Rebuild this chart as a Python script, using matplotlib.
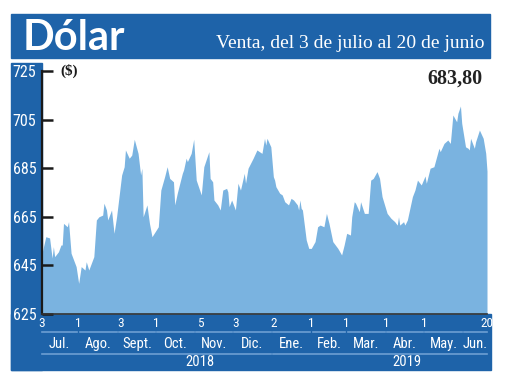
import matplotlib
matplotlib.use("Agg")
import matplotlib.pyplot as plt
import matplotlib.transforms as mtransforms
from matplotlib import font_manager
from matplotlib.patches import Rectangle
import pandas as pd

# Data
dates = [
    "2018-07-03", "2018-07-06", "2018-07-09", "2018-07-11", "2018-07-12", "2018-07-13",
    "2018-07-16", "2018-07-18", "2018-07-19", "2018-07-20", "2018-07-23", "2018-07-24",
    "2018-07-26", "2018-07-30", "2018-08-01", "2018-08-03", "2018-08-06", "2018-08-07",
    "2018-08-09", "2018-08-13", "2018-08-15", "2018-08-17", "2018-08-20", "2018-08-21",
    "2018-08-23", "2018-08-24", "2018-08-27", "2018-08-29", "2018-08-31", "2018-09-04",
    "2018-09-06", "2018-09-07", "2018-09-10", "2018-09-12", "2018-09-14", "2018-09-17",
    "2018-09-19", "2018-09-20", "2018-09-21", "2018-09-24", "2018-09-26", "2018-09-28",
    "2018-10-03", "2018-10-05", "2018-10-08", "2018-10-10", "2018-10-12", "2018-10-15",
    "2018-10-16", "2018-10-18", "2018-10-22", "2018-10-23", "2018-10-25", "2018-10-26",
    "2018-10-29", "2018-10-31", "2018-11-02", "2018-11-06", "2018-11-08", "2018-11-12",
    "2018-11-13", "2018-11-15", "2018-11-16", "2018-11-19", "2018-11-21", "2018-11-23",
    "2018-11-26", "2018-11-27", "2018-11-28", "2018-11-30", "2018-12-03", "2018-12-05",
    "2018-12-07", "2018-12-10", "2018-12-11", "2018-12-13", "2018-12-17", "2018-12-20",
    "2018-12-24", "2018-12-26", "2018-12-27", "2018-12-28", "2018-12-31", "2019-01-02",
    "2019-01-03", "2019-01-04", "2019-01-07", "2019-01-09", "2019-01-11", "2019-01-14",
    "2019-01-16", "2019-01-18", "2019-01-21", "2019-01-22", "2019-01-23", "2019-01-24",
    "2019-01-25", "2019-01-28", "2019-01-30", "2019-02-01", "2019-02-04", "2019-02-06",
    "2019-02-08", "2019-02-11", "2019-02-13", "2019-02-15", "2019-02-18", "2019-02-20",
    "2019-02-22", "2019-02-25", "2019-02-27", "2019-03-01", "2019-03-04", "2019-03-05",
    "2019-03-07", "2019-03-08", "2019-03-11", "2019-03-12", "2019-03-15", "2019-03-18",
    "2019-03-20", "2019-03-22", "2019-03-25", "2019-03-27", "2019-03-29", "2019-04-02",
    "2019-04-05", "2019-04-08", "2019-04-10", "2019-04-11", "2019-04-12", "2019-04-15",
    "2019-04-16", "2019-04-18", "2019-04-22", "2019-04-24", "2019-04-26", "2019-04-29",
    "2019-05-02", "2019-05-03", "2019-05-06", "2019-05-09", "2019-05-13", "2019-05-14",
    "2019-05-17", "2019-05-20", "2019-05-22", "2019-05-24", "2019-05-27", "2019-05-28",
    "2019-05-30", "2019-05-31", "2019-06-03", "2019-06-05", "2019-06-06", "2019-06-07",
    "2019-06-10", "2019-06-11", "2019-06-14", "2019-06-17", "2019-06-19", "2019-06-20",
]
values = [
    650.0, 656.8, 656.3, 648.0, 652.7, 648.6,
    650.6, 653.4, 653.4, 662.3, 660.9, 663.0,
    650.0, 644.5, 637.6, 644.5, 643.1, 646.5,
    643.1, 648.6, 663.7, 665.0, 665.7, 670.6,
    667.8, 663.7, 667.8, 658.2, 665.0, 682.2,
    685.6, 692.5, 689.1, 690.4, 696.9, 691.1,
    682.2, 685.0, 665.0, 669.9, 662.3, 656.8,
    660.9, 676.0, 681.5, 685.6, 680.8, 679.4,
    669.9, 674.7, 682.9, 684.3, 689.1, 687.7,
    691.1, 696.9, 680.1, 674.0, 685.6, 691.8,
    680.8, 679.4, 671.9, 669.9, 667.8, 676.0,
    676.7, 675.3, 669.2, 671.9, 667.8, 678.8,
    676.0, 682.9, 678.8, 685.0, 689.1, 692.5,
    691.1, 697.3, 694.5, 697.3, 693.8, 681.5,
    680.1, 677.4, 674.7, 674.0, 671.2, 669.9,
    672.6, 671.9, 669.9, 667.8, 671.9, 668.5,
    667.8, 655.5, 652.0, 652.0, 654.8, 660.9,
    661.6, 660.9, 666.4, 662.3, 654.8, 653.4,
    652.0, 649.3, 653.4, 658.2, 657.5, 665.0,
    671.2, 670.6, 667.1, 671.2, 666.4, 666.4,
    680.1, 680.8, 683.6, 680.8, 673.3, 666.4,
    664.4, 663.0, 661.6, 665.0, 661.6, 663.0,
    661.6, 663.7, 673.3, 676.0, 680.1, 678.1,
    681.8, 678.8, 685.0, 685.6, 693.2, 691.8,
    695.2, 696.6, 695.2, 706.9, 704.1, 707.6,
    710.6, 703.5, 693.8, 693.2, 692.5, 697.3,
    693.2, 695.9, 700.7, 697.3, 691.1, 683.8,
]

y_ticks = [625, 645, 665, 685, 705, 725]
tick_dates = ["2018-07-03", "2018-08-01", "2018-09-03", "2018-10-01", "2018-11-05", "2018-12-03",
              "2019-01-02", "2019-02-01", "2019-03-01", "2019-04-01", "2019-05-01", "2019-06-20"]
tick_labels = ["3", "1", "3", "1", "5", "3", "2", "1", "1", "1", "1", "20"]
month_starts = ["2018-07-03", "2018-08-01", "2018-09-01", "2018-10-01", "2018-11-01", "2018-12-01",
                "2019-01-01", "2019-02-01", "2019-03-01", "2019-04-01", "2019-05-01", "2019-06-01",
                "2019-06-21"]
month_labels = ["Jul.", "Ago.", "Sept.", "Oct.", "Nov.", "Dic.",
                "Ene.", "Feb.", "Mar.", "Abr.", "May.", "Jun."]
years = ["2018", "2019"]
last_value = "683,80"

BLUE = "#1e63a9"
FILL = "#7ab3e0"
SEP = "#6d9fd3"
W, H = 520, 390


def pick(names):
    have = {f.name for f in font_manager.fontManager.ttflist}
    for n in names:
        if n in have:
            return n
    return "DejaVu Sans"


narrow = pick(["Liberation Sans Narrow", "Roboto Condensed", "Liberation Sans"])
serif = pick(["Liberation Serif", "DejaVu Serif"])


def fx(px):
    return px / W


def fy(py):
    return 1 - py / H


x = pd.to_datetime(dates)
fig = plt.figure(figsize=(5.2, 3.9), dpi=100)

# blue frame pieces, kept behind the axes
for (x0, y0, x1, y1) in [(11, 14, 490, 58), (11, 63, 42, 370), (11, 314, 491, 370)]:
    fig.patches.append(Rectangle((fx(x0), fy(y1)), (x1 - x0) / W, (y1 - y0) / H,
                                 transform=fig.transFigure, color=BLUE, zorder=-5))

fig.text(fx(23), fy(49.5), "Dólar", color="white", fontsize=30, fontweight="bold",
         family="Lato", va="baseline", ha="left")
fig.text(fx(485), fy(47.5), "Venta, del 3 de julio al 20 de junio", color="white",
         fontsize=14, family=serif, va="baseline", ha="right")

ax = fig.add_axes([fx(42), fy(314), 445 / W, 243 / H])
ax.patch.set_visible(False)
ax.fill_between(x, values, 625, color=FILL, lw=0)
ax.set_xlim(pd.Timestamp("2018-07-03"), pd.Timestamp("2019-06-20"))
ax.set_ylim(625, 725)

for s in ["top", "right"]:
    ax.spines[s].set_visible(False)
ax.spines["left"].set_linewidth(1.6)
ax.spines["left"].set_color("#1a1a1a")
ax.spines["bottom"].set_linewidth(1.2)
ax.spines["bottom"].set_color("#333333")

ax.set_yticks(y_ticks)
ax.set_yticklabels([str(v) for v in y_ticks], family=narrow)
ax.tick_params(axis="y", direction="in", length=8, width=1.8, color="#1a1a1a",
               labelcolor="white", labelsize=11.5, pad=4)

ax.set_xticks(pd.to_datetime(tick_dates))
ax.set_xticklabels(tick_labels, family=narrow)
ax.tick_params(axis="x", length=0, labelcolor="white", labelsize=9.5, pad=2)

# month and year bands below the axis
trans = mtransforms.blended_transform_factory(ax.transData, fig.transFigure)
ms = pd.to_datetime(month_starts)
for i, lab in enumerate(month_labels):
    a = ms[i] + pd.Timedelta(days=1 if i else 0)
    b = ms[i + 1] - pd.Timedelta(days=1)
    ax.plot([a, b], [fy(332), fy(332)], color=SEP, lw=1.2, transform=trans, clip_on=False)
    mid = a + (b - a) / 2
    ax.text(mid, fy(344), lab, transform=trans, color="white", fontsize=10.5,
            family=narrow, ha="center", va="center")

year_spans = [("2018-07-03", "2018-12-31"), ("2019-01-02", "2019-06-20")]
year_pos = [200, 407]
for (a, b), yr, px in zip(year_spans, years, year_pos):
    ax.plot(pd.to_datetime([a, b]), [fy(354), fy(354)], color=SEP, lw=1.2,
            transform=trans, clip_on=False)
    fig.text(fx(px), fy(362), yr, color="white", fontsize=10.5, family=narrow,
             ha="center", va="center")

fig.text(fx(60), fy(71), "($)", color="#1a1a1a", fontsize=11, fontweight="bold",
         family=serif, ha="left", va="center")
fig.text(fx(483), fy(79), last_value, color="#222222", fontsize=14.5, fontweight="bold",
         family=serif, ha="right", va="center")

fig.savefig("out.png", dpi=100)
